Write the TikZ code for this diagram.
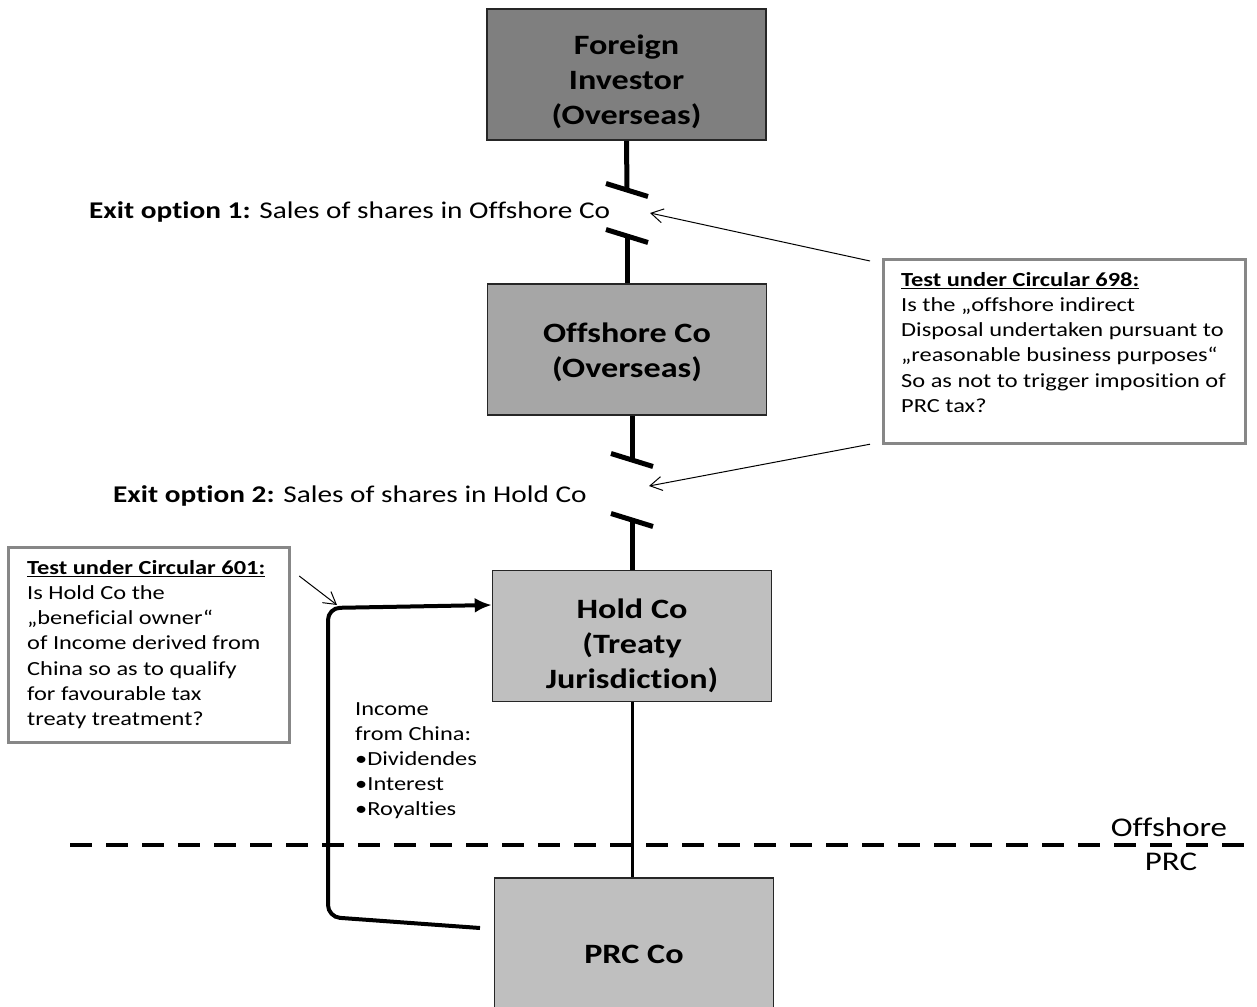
\documentclass[tikz,border=0pt]{standalone}
\usepackage{fontspec}
\setmainfont{Carlito}[FakeStretch=1.22,Ligatures=NoCommon]
\usetikzlibrary{arrows.meta,calc}
\definecolor{investorgray}{RGB}{127,127,127}
\definecolor{offshoregray}{RGB}{166,166,166}
\definecolor{holdgray}{RGB}{191,191,191}
\definecolor{framegray}{RGB}{135,135,135}
\newcommand{\pushdown}[1]{\rule{0pt}{#1}}

\begin{document}
\begin{tikzpicture}[x=1pt,y=-1pt,
    entity/.style={draw=black!85, line width=1.6pt, minimum width=279, minimum height=131,
      align=center, inner sep=0, font=\fontsize{28}{35}\selectfont\bfseries},
    notebox/.style={draw=framegray, line width=3.2pt, fill=white, inner sep=0},
    notetext/.style={anchor=north west, align=left, inner sep=0, font=\fontsize{20}{25.2}\selectfont},
    link/.style={line width=5pt},
    thinlink/.style={line width=3pt},
    cutmark/.style={line width=5pt},
    callout/.style={line width=1pt, -{Straight Barb[length=12pt,width=14pt]}},
    flow/.style={line width=4pt, rounded corners=12, -{Latex[length=17pt,width=15pt]}}]
    \useasboundingbox (0,0) rectangle (1257,1006);
    \node[entity, fill=investorgray] (fi) at (626.5,74.5) {\pushdown{34pt}Foreign\\Investor\\(Overseas)};
    \node[entity, fill=offshoregray] (oc) at (627,349.5) {\pushdown{26pt}Offshore Co\\(Overseas)};
    \node[entity, fill=holdgray] (hc) at (632,636) {\pushdown{40pt}Hold Co\\(Treaty\\Jurisdiction)};
    \node[entity, fill=holdgray, minimum height=152] (pc) at (634,954) {PRC Co};
    \coordinate (cut1a) at (627,190);
    \coordinate (cut1b) at (627,236);
    \coordinate (cut2a) at (632,460);
    \coordinate (cut2b) at (632,520);
    \draw[link] (fi.south) -- (cut1a);
    \draw[link] (cut1b) -- (oc.north);
    \draw[link] (cut2a |- oc.south) -- (cut2a);
    \draw[link] (cut2b) -- (cut2b |- hc.north);
    \draw[thinlink] (hc.south) -- (hc.south |- pc.north);
    \foreach \c in {cut1a,cut1b,cut2a,cut2b}{
      \draw[cutmark] ($(\c)+(-21,-6.5)$) -- ($(\c)+(21,6.5)$);
    }
    \node[anchor=west, inner sep=0, font=\fontsize{24}{28}\selectfont] (exit1) at (89,212)
      {\textbf{Exit option 1:} Sales of shares in Offshore Co};
    \node[anchor=west, inner sep=0, font=\fontsize{24}{28}\selectfont] (exit2) at (113,496)
      {\textbf{Exit option 2:} Sales of shares in Hold Co};
    \draw[line width=3.5pt, dash pattern=on 22pt off 14pt] (70,845) -- (1257,845);
    \node[font=\fontsize{27}{30}\selectfont, inner sep=0] (offlabel) at (1169,827) {Offshore};
    \node[font=\fontsize{27}{30}\selectfont, inner sep=0] (prclabel) at (1171,862) {PRC};
    \node[notebox, minimum width=362, minimum height=184, anchor=north west] (c698) at (882,258) {};
    \node[notetext] (c698txt) at (901,272) {\underline{\textbf{Test under Circular 698:}}\\
      Is the „offshore indirect\\Disposal undertaken pursuant to\\„reasonable business purposes“\\
      So as not to trigger imposition of\\PRC tax?};
    \node[notebox, minimum width=281, minimum height=195, anchor=north west] (c601) at (7,546) {};
    \node[notetext] (c601txt) at (27,560) {\underline{\textbf{Test under Circular 601:}}\\
      Is Hold Co the\\„beneficial owner“\\of Income derived from\\China so as to qualify\\
      for favourable tax\\treaty treatment?};
    \node[notetext] (income) at (355,702) {Income\\from China:\\•Dividendes\\•Interest\\•Royalties};
    \coordinate (tip1) at (650,213);
    \coordinate (tip2) at (649,486);
    \coordinate (tip3) at (337,605);
    \draw[callout] ($(c698.north west)+(-12,3)$) -- (tip1);
    \draw[callout] ($(c698.south west)+(-12,-1)$) -- (tip2);
    \draw[callout] ($(c601.north east)+(8,30)$) -- (tip3);
    \coordinate (incstart) at (480,928);
    \draw[flow] (incstart) -- (328,917) -- (328,608) -- (hc.west |- 0,605);
\end{tikzpicture}
\end{document}
